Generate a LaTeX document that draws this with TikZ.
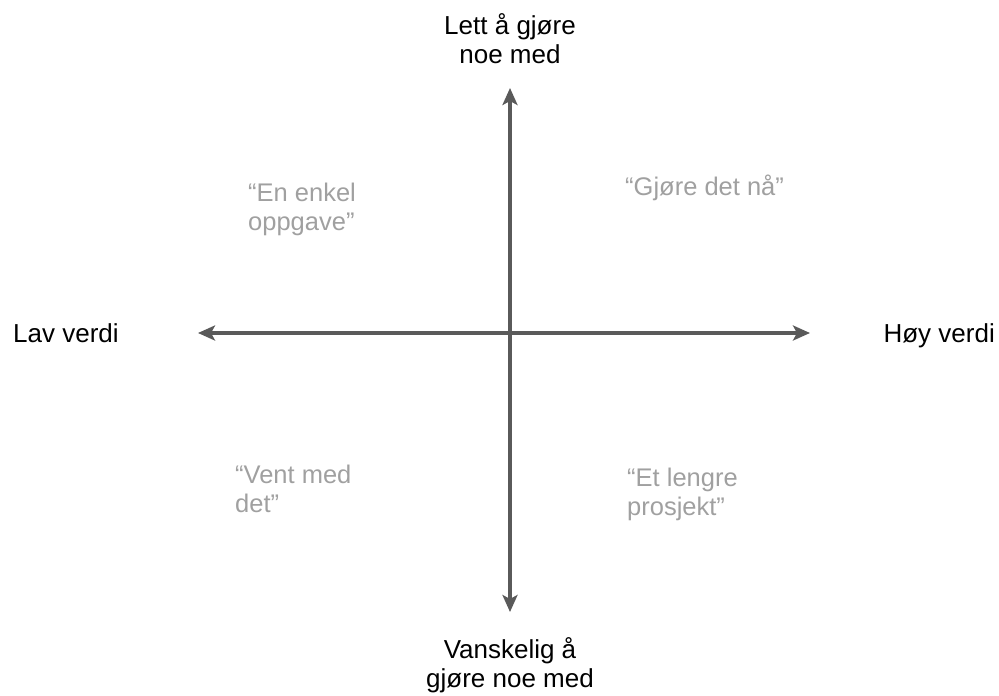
\documentclass[tikz,border=0pt]{standalone}
\usepackage{fontspec}
\setmainfont{Liberation Sans}
\usetikzlibrary{arrows.meta}
\definecolor{axisgray}{HTML}{5A5A5A}
\definecolor{quadgray}{HTML}{A0A0A0}
\begin{document}
\begin{tikzpicture}[x=1pt, y=-1pt, line join=round,
		>={Stealth[length=17pt,width=15pt,inset=4pt]},
		axis/.style={draw=axisgray, line width=3.5pt, <->},
		pole/.style={font=\fontsize{26}{29}\selectfont, align=center, inner sep=0pt},
		quad/.style={text=quadgray, font=\fontsize{25.5}{29}\selectfont, align=left, inner sep=0pt, anchor=base west}]
	\useasboundingbox (0,0) rectangle (999,696);
	% axis ends
	\coordinate (n) at (510,88);
	\coordinate (s) at (510,612);
	\coordinate (w) at (198,333);
	\coordinate (e) at (810,333);
	\draw[axis] (w) -- (e);
	\draw[axis] (n) -- (s);
	% pole labels
	\node[pole] (easy) at (510,39) {Lett å gjøre\\noe med};
	\node[pole] (hard) at (510,665) {Vanskelig å\\gjøre noe med};
	\node[pole, anchor=base west] (low) at (13,342) {Lav verdi};
	\node[pole, anchor=base east] (high) at (995,342) {Høy verdi};
	% quadrants
	\foreach \x/\y/\t/\n in {248/230/{“En enkel\\oppgave”}/simple, 625/195/{“Gjøre det nå”}/now,
		235/512/{“Vent med\\det”}/wait, 627/515/{“Et lengre\\prosjekt”}/project}
	\node[quad] (\n) at (\x,\y) {\t};
\end{tikzpicture}
\end{document}
